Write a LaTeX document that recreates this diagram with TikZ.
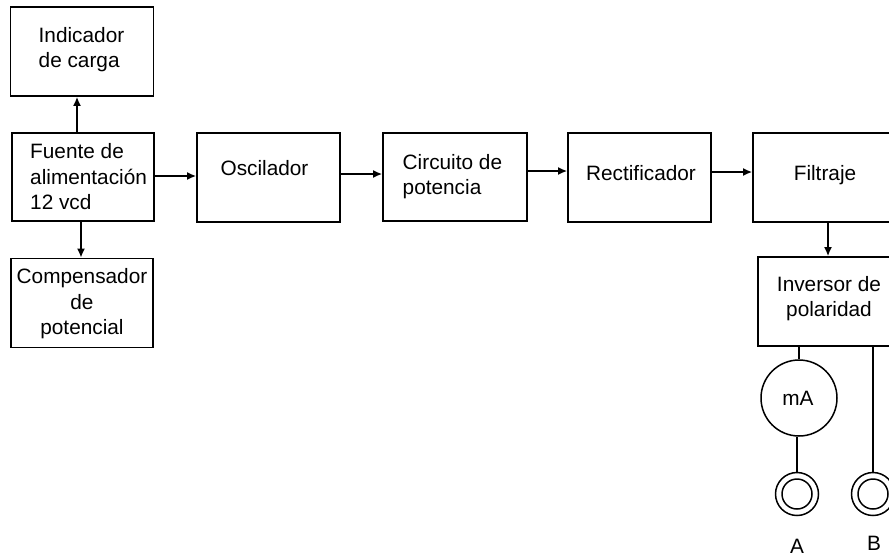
\documentclass[tikz,border=0pt]{standalone}
\usepackage{fontspec}
\setmainfont{Liberation Sans}
\usetikzlibrary{arrows.meta}
\begin{document}
\begin{tikzpicture}[x=1pt,y=-1pt,
  box/.style={draw,line width=1.7pt,rectangle,inner sep=0pt},
  txt/.style={font=\fontsize{20.8}{25.5}\selectfont,inner sep=0pt},
  arr/.style={line width=1.7pt,-{Latex[length=9pt,width=8pt]}},
  ln/.style={line width=1.5pt},
  circ/.style={draw,line width=1.5pt,circle,inner sep=0pt}]
\clip (0,0) rectangle (889,558);
\fill[white] (0,0) rectangle (889,558);
% boxes
\node[box,minimum width=143pt,minimum height=89pt] (ind) at (82,51.5) {};
\node[box,minimum width=142pt,minimum height=88pt] (fue) at (83,177) {};
\node[box,minimum width=142pt,minimum height=89pt] (comp) at (82,303) {};
\node[box,minimum width=143pt,minimum height=89pt] (osc) at (268.5,177.5) {};
\node[box,minimum width=144pt,minimum height=88pt] (circ) at (455,177) {};
\node[box,minimum width=143pt,minimum height=89pt] (rect) at (639.5,177.5) {};
\node[box,minimum width=145pt,minimum height=89pt] (fil) at (825.5,177.5) {};
\node[box,minimum width=142pt,minimum height=89pt] (inv) at (829,301.5) {};
% texts
\node[txt,align=left,anchor=west] (tind) at (38.5,49.5) {Indicador\\de carga};
\node[txt,align=left,anchor=west] (tfue) at (30,177) {Fuente de\\alimentación\\12 vcd};
\node[txt,align=center] (tcomp) at (82,304) {Compensador\\de\\potencial};
\node[txt] (tosc) at (264.5,168) {Oscilador};
\node[txt,align=left,anchor=west] (tcirc) at (402.5,176.5) {Circuito de\\potencia};
\node[txt] (trect) at (641,173) {Rectificador};
\node[txt] (tfil) at (825,175) {Filtraje};
\node[txt,align=center] (tinv) at (829,298.5) {Inversor de\\polaridad};
% connectors
\draw[arr] ([xshift=-6pt]fue.north) -- ([xshift=-5pt]ind.south);
\draw[arr] ([xshift=-2pt]fue.south) -- ([xshift=-1pt]comp.north);
\draw[arr] (fue.east |- 0,176) -- (osc.west |- 0,176);
\draw[arr] (osc.east |- 0,174) -- (circ.west |- 0,174);
\draw[arr] (circ.east |- 0,171) -- (rect.west |- 0,171);
\draw[arr] (rect.east |- 0,172) -- (fil.west |- 0,172);
\draw[arr] (828,0 |- fil.south) -- (828,0 |- inv.north);
% meter and terminals
\node[circ,minimum size=76pt] (ma) at (799,398) {};
\node[txt] (tma) at (798,398) {mA};
\node[circ,minimum size=43pt] (ta) at (797,494) {};
\draw[ln] (ta.center) circle[radius=15pt];
\node[circ,minimum size=43pt] (tb) at (873,494) {};
\draw[ln] (tb.center) circle[radius=15pt];
\draw[ln] (ma.north |- inv.south) -- (ma.north);
\draw[ln] (ta.north |- ma.south) -- (ta.north);
\draw[ln] (tb.north |- inv.south) -- (tb.north);
\node[txt] (la) at (797,546) {A};
\node[txt] (lb) at (874,543) {B};
\end{tikzpicture}
\end{document}
